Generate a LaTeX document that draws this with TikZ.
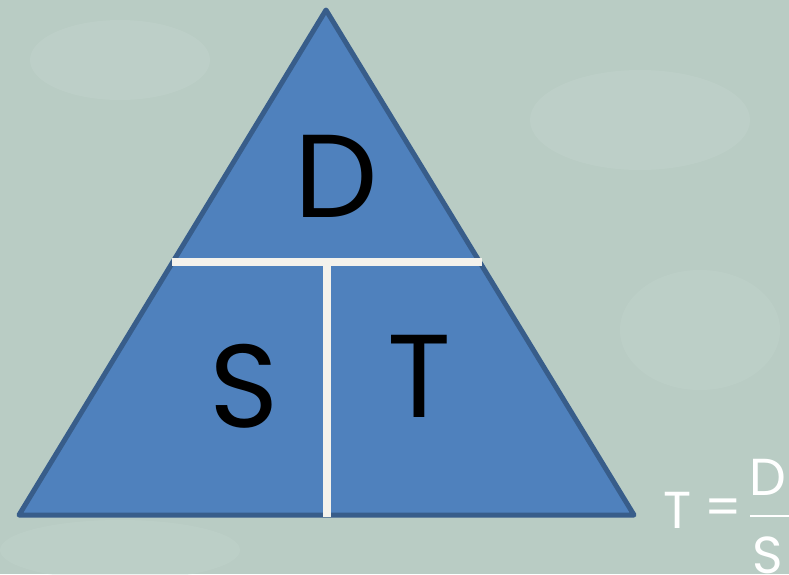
\documentclass[tikz,border=0pt]{standalone}
\usepackage{fontspec}
\setmainfont{Poppins}
\definecolor{bgc}{HTML}{B9CCC4}
\definecolor{bgl}{HTML}{C6D7D0}
\definecolor{fillb}{HTML}{4F81BD}
\definecolor{edgeb}{HTML}{385D8A}
\definecolor{barw}{HTML}{F4F2EC}
\tikzset{
  bigletter/.style={font=\fontsize{118}{120}\selectfont, text=black, inner sep=0pt},
  formtext/.style={font=\fontsize{52}{54}\selectfont, text=white, inner sep=0pt},
  bar/.style={draw=barw, line width=7.5pt},
}
\begin{document}
\begin{tikzpicture}[x=1pt,y=-1pt]
\fill[bgc] (0,0) rectangle (789,574);
\useasboundingbox (0,0) rectangle (789,574);
\clip (0,0) rectangle (789,574);
\fill[bgl, opacity=0.35] (120,60) ellipse (90 and 40);
\fill[bgl, opacity=0.35] (640,120) ellipse (110 and 50);
\fill[bgl, opacity=0.3] (700,330) ellipse (80 and 60);
\fill[bgl, opacity=0.3] (120,550) ellipse (120 and 30);
\coordinate (apex) at (326,10);
\coordinate (bl) at (19,515);
\coordinate (br) at (634,515);
\draw[fill=fillb, draw=edgeb, line width=5pt, line join=round] (apex) -- (br) -- (bl) -- cycle;
\coordinate (hl) at (172,262);
\coordinate (hr) at (482,262);
\coordinate (vt) at (327,262);
\coordinate (vb) at (327,517);
\draw[bar] (hl) -- (hr);
\draw[bar] (vt) -- (vb);
\node[bigletter] (D) at (336,176) {D};
\node[bigletter] (S) at (244,386) {S};
\node[bigletter] (T) at (419,376) {T};
\node[formtext] (fT) at (678,510) {T};
\node[formtext] (feq) at (723,512) {=};
\node[formtext] (fD) at (768,477) {D};
\coordinate (fl) at (750,516);
\coordinate (fr) at (800,516);
\draw[white, line width=1.5pt] (fl) -- (fr);
\node[formtext] (fS) at (768,555) {S};
\end{tikzpicture}
\end{document}
